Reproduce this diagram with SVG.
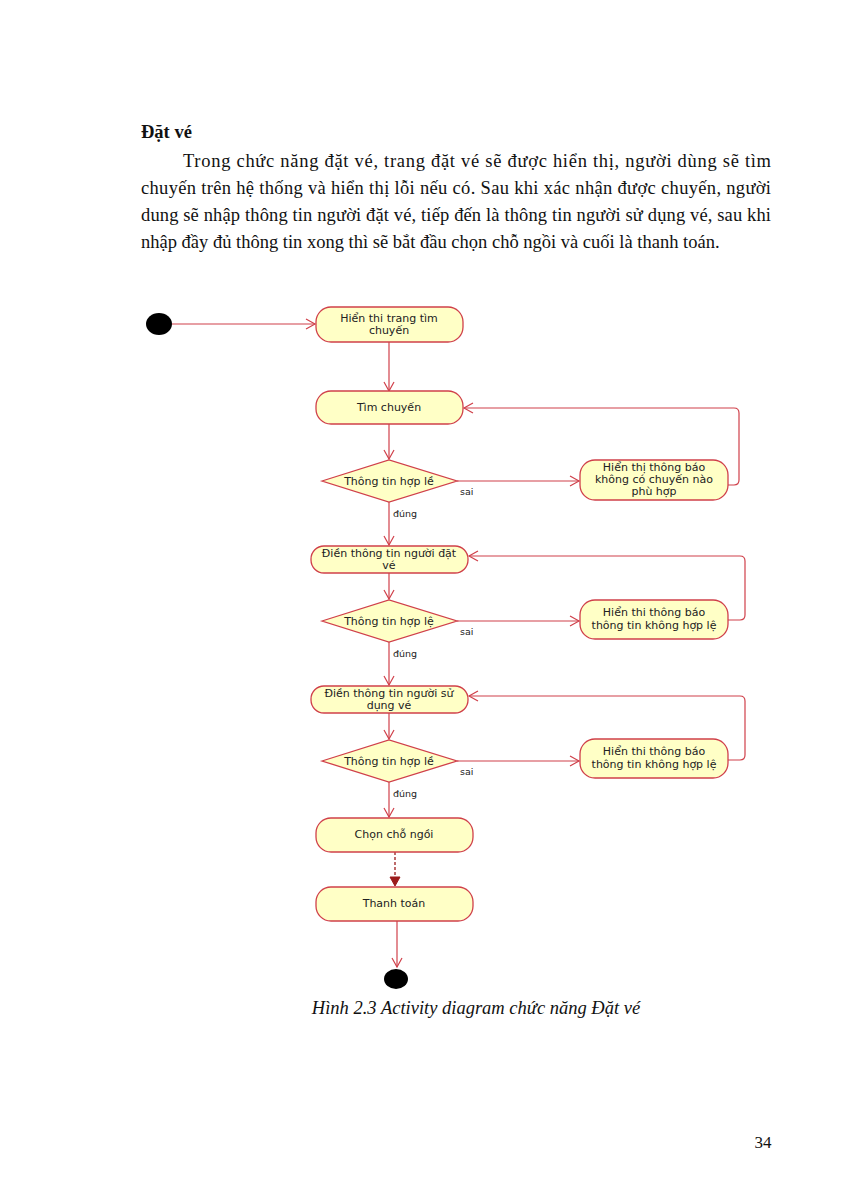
<svg xmlns="http://www.w3.org/2000/svg" width="849" height="1200" viewBox="0 0 849 1200">
<defs>
<marker id="arr" markerWidth="12" markerHeight="12" refX="10" refY="6" orient="auto" markerUnits="userSpaceOnUse">
<path d="M1,1 L10,6 L1,11" fill="none" stroke="#d0404a" stroke-width="1.2"/>
</marker>
<marker id="arrd" markerWidth="12" markerHeight="12" refX="10" refY="6" orient="auto" markerUnits="userSpaceOnUse">
<path d="M1,1 L10,6 L1,11 Z" fill="#9b1c1c" stroke="#9b1c1c" stroke-width="1"/>
</marker>
</defs>
<style>
.body{font-family:"Liberation Serif","Times New Roman",serif;font-size:18.5px;fill:#111}
.act{fill:#ffffc6;stroke:#d0404a;stroke-width:1.3}
.lbl{font-family:"DejaVu Sans","Liberation Sans",sans-serif;font-size:11px;fill:#222;text-anchor:middle}
.small{font-family:"DejaVu Sans","Liberation Sans",sans-serif;font-size:9.5px;fill:#222}
.edge{fill:none;stroke:#d0404a;stroke-width:1.2}
</style>
<rect width="849" height="1200" fill="#ffffff"/>
<g id="text">
<text x="141" y="138" class="body" font-weight="bold">Đặt vé</text>
<text x="183" y="167" class="body" textLength="588" lengthAdjust="spacing">Trong chức năng đặt vé, trang đặt vé sẽ được hiển thị, người dùng sẽ tìm</text>
<text x="141" y="194" class="body" textLength="630" lengthAdjust="spacing">chuyến trên hệ thống và hiển thị lỗi nếu có. Sau khi xác nhận được chuyến, người</text>
<text x="141" y="221" class="body" textLength="630" lengthAdjust="spacing">dung sẽ nhập thông tin người đặt vé, tiếp đến là thông tin người sử dụng vé, sau khi</text>
<text x="141" y="248" class="body">nhập đầy đủ thông tin xong thì sẽ bắt đầu chọn chỗ ngồi và cuối là thanh toán.</text>
</g>
<g id="connectors">
<path class="edge" d="M172,324 H315" marker-end="url(#arr)"/>
<path class="edge" d="M389,342 V391" marker-end="url(#arr)"/>
<path class="edge" d="M389,424 V459" marker-end="url(#arr)"/>
<path class="edge" d="M457,481 H579" marker-end="url(#arr)"/>
<path class="edge" d="M728,485 H734 Q739,485 739,480 V413 Q739,408 734,408 H464" marker-end="url(#arr)"/>
<path class="edge" d="M389,502 V545" marker-end="url(#arr)"/>
<path class="edge" d="M389,573 V599" marker-end="url(#arr)"/>
<path class="edge" d="M457,621 H579" marker-end="url(#arr)"/>
<path class="edge" d="M728,620 H740 Q745,620 745,615 V561 Q745,556 740,556 H469" marker-end="url(#arr)"/>
<path class="edge" d="M389,642 V685" marker-end="url(#arr)"/>
<path class="edge" d="M389,713 V739" marker-end="url(#arr)"/>
<path class="edge" d="M457,761 H579" marker-end="url(#arr)"/>
<path class="edge" d="M728,760 H740 Q745,760 745,755 V701 Q745,696 740,696 H469" marker-end="url(#arr)"/>
<path class="edge" d="M389,782 V817" marker-end="url(#arr)"/>
<path d="M395,852 V886" fill="none" stroke="#9b1c1c" stroke-width="1.3" stroke-dasharray="3,2" marker-end="url(#arrd)"/>
<path class="edge" d="M397,921 V967" marker-end="url(#arr)"/>
<text x="460" y="495" class="small">sai</text>
<text x="393" y="517" class="small">đúng</text>
<text x="460" y="635" class="small">sai</text>
<text x="393" y="657" class="small">đúng</text>
<text x="460" y="775" class="small">sai</text>
<text x="393" y="797" class="small">đúng</text>
</g>
<g id="start"><ellipse cx="159" cy="324" rx="13" ry="11" fill="#000"/></g>
<g id="n1"><rect x="316" y="307" width="147" height="35" rx="15" class="act"/>
<text class="lbl" x="389" y="322">Hiển thi trang tìm</text><text class="lbl" x="389" y="334">chuyến</text></g>
<g id="n2"><rect x="316" y="391" width="147" height="33" rx="15" class="act"/>
<text class="lbl" x="389" y="411">Tìm chuyến</text></g>
<g id="d1"><polygon points="322,481 389,460 457,481 389,502" class="act"/>
<text class="lbl" x="389" y="485">Thông tin hợp lề</text></g>
<g id="n3"><rect x="580" y="460" width="148" height="40" rx="15" class="act"/>
<text class="lbl" x="654" y="471">Hiển thị thông báo</text><text class="lbl" x="654" y="483">không có chuyến nào</text><text class="lbl" x="654" y="495">phù hợp</text></g>
<g id="n4"><rect x="311" y="546" width="157" height="27" rx="13" class="act"/>
<text class="lbl" x="389" y="557">Điền thông tin người đặt</text><text class="lbl" x="389" y="569">vé</text></g>
<g id="d2"><polygon points="322,621 389,600 457,621 389,642" class="act"/>
<text class="lbl" x="389" y="625">Thông tin hợp lệ</text></g>
<g id="n5"><rect x="580" y="600" width="148" height="39" rx="15" class="act"/>
<text class="lbl" x="654" y="616">Hiển thi thông báo</text><text class="lbl" x="654" y="629">thông tin không hợp lệ</text></g>
<g id="n6"><rect x="311" y="686" width="157" height="27" rx="13" class="act"/>
<text class="lbl" x="389" y="697">Điền thông tin người sử</text><text class="lbl" x="389" y="709">dụng vé</text></g>
<g id="d3"><polygon points="322,761 389,740 457,761 389,782" class="act"/>
<text class="lbl" x="389" y="765">Thông tin hợp lề</text></g>
<g id="n7"><rect x="580" y="739" width="148" height="39" rx="15" class="act"/>
<text class="lbl" x="654" y="755">Hiển thi thông báo</text><text class="lbl" x="654" y="768">thông tin không hợp lệ</text></g>
<g id="n8"><rect x="316" y="818" width="157" height="34" rx="15" class="act"/>
<text class="lbl" x="394" y="838">Chọn chỗ ngồi</text></g>
<g id="n9"><rect x="316" y="887" width="157" height="34" rx="15" class="act"/>
<text class="lbl" x="394" y="907">Thanh toán</text></g>
<g id="end"><ellipse cx="396" cy="979" rx="12" ry="10" fill="#000"/></g>
<text x="476" y="1014" text-anchor="middle" font-family="Liberation Serif, serif" font-style="italic" font-size="18.5" fill="#111">Hình 2.3 Activity diagram chức năng Đặt vé</text>
<text x="763" y="1148" text-anchor="middle" font-family="Liberation Serif, serif" font-size="17" fill="#111">34</text>
</svg>
